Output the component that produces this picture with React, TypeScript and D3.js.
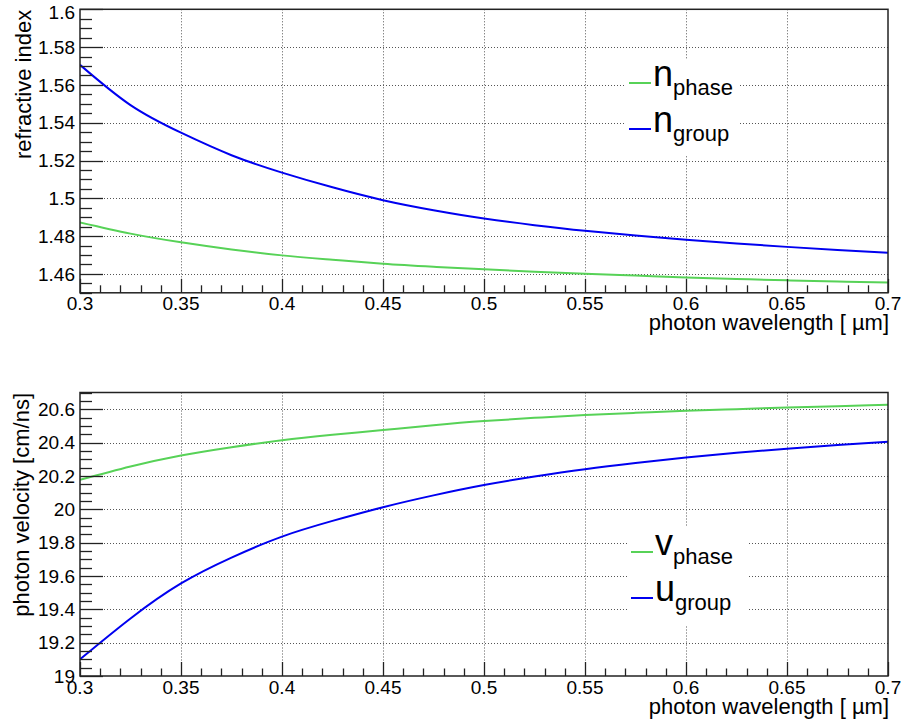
import React from "react";
import * as d3 from "d3";

// ---------- data ----------
const wavelength = [
  0.3, 0.325, 0.35, 0.375, 0.4, 0.425, 0.45, 0.475, 0.5, 0.525, 0.55, 0.575, 0.6, 0.625, 0.65, 0.675, 0.7,
];
const nPhase = [
  1.4872, 1.4813, 1.4767, 1.4729, 1.4698, 1.4675, 1.4654, 1.4638, 1.4624, 1.4612, 1.4601, 1.4591, 1.4581,
  1.4573, 1.4566, 1.456, 1.4555,
];
const nGroup = [
  1.5706, 1.5493, 1.5347, 1.5228, 1.5136, 1.5058, 1.499, 1.4937, 1.4893, 1.4858, 1.4828, 1.4803, 1.4781,
  1.4761, 1.4743, 1.4727, 1.4712,
];
const vPhase = [
  20.176, 20.256, 20.322, 20.372, 20.414, 20.446, 20.475, 20.504, 20.529, 20.548, 20.565, 20.578, 20.59,
  20.6, 20.61, 20.618, 20.626,
];
const uGroup = [
  19.1, 19.345, 19.555, 19.71, 19.836, 19.93, 20.012, 20.083, 20.145, 20.196, 20.24, 20.277, 20.31, 20.338,
  20.363, 20.385, 20.404,
];

const xTickLabels = [0.3, 0.35, 0.4, 0.45, 0.5, 0.55, 0.6, 0.65, 0.7];
const yTickLabelsTop = [1.46, 1.48, 1.5, 1.52, 1.54, 1.56, 1.58, 1.6];
const yTickLabelsBottom = [19, 19.2, 19.4, 19.6, 19.8, 20, 20.2, 20.4, 20.6];

const GREEN = "#57d257";
const BLUE = "#0000f0";
const FONT = "'Liberation Sans', Arial, Helvetica, sans-serif";

type Series = { values: number[]; color: string; main: string; sub: string };

type PanelProps = {
  top: number;
  yDomain: [number, number];
  yTicks: number[];
  yMinorStep: number;
  yTitle: string;
  yTitleX: number;
  series: Series[];
  legend: { x: number; y: number; w: number; h: number; rows: number[] };
};

const LEFT = 80;
const RIGHT = 888;
const HEIGHT = 283.5;

function minorRange(lo: number, hi: number, step: number) {
  const n = Math.round((hi - lo) / step);
  return d3.range(n + 1).map((i) => lo + i * step);
}

function fmt(v: number) {
  return String(+v.toFixed(4));
}

function Panel({ top, yDomain, yTicks, yMinorStep, yTitle, yTitleX, series, legend }: PanelProps) {
  const bottom = top + HEIGHT;
  const x = d3.scaleLinear().domain([0.3, 0.7]).range([LEFT, RIGHT]);
  const y = d3.scaleLinear().domain(yDomain).range([bottom, top]);
  const xMinor = minorRange(0.3, 0.7, 0.01);
  const yMinor = minorRange(yDomain[0], yDomain[1], yMinorStep);
  const clipId = `clip-${Math.round(top)}`;
  const line = d3
    .line<number>()
    .x((_, i) => x(wavelength[i]))
    .y((d) => y(d))
    .curve(d3.curveNatural);

  const gridX = xTickLabels.filter((v) => v > 0.3001 && v < 0.6999);
  const gridY = yTicks.filter((v) => v > yDomain[0] + 1e-6 && v < yDomain[1] - 1e-6);

  return (
    <g>
      <defs>
        <clipPath id={clipId}>
          <rect x={LEFT} y={top} width={RIGHT - LEFT} height={HEIGHT} />
        </clipPath>
      </defs>
      {/* grid */}
      {gridX.map((v) => (
        <line key={"gx" + v} x1={Math.round(x(v)) + 0.5} x2={Math.round(x(v)) + 0.5} y1={top} y2={bottom}
          stroke="#555" strokeWidth={1} strokeDasharray="1 2" />
      ))}
      {gridY.map((v) => (
        <line key={"gy" + v} x1={LEFT} x2={RIGHT} y1={Math.round(y(v)) + 0.5} y2={Math.round(y(v)) + 0.5}
          stroke="#555" strokeWidth={1} strokeDasharray="1 2" />
      ))}
      {/* legend box (white, hides the grid) */}
      <rect x={legend.x} y={legend.y} width={legend.w} height={legend.h} fill="#fff" />
      {/* curves */}
      <g clipPath={`url(#${clipId})`}>
        {series.map((s) => (
          <path key={s.main + s.sub} d={line(s.values) || ""} fill="none" stroke={s.color} strokeWidth={2}
            strokeLinejoin="round" />
        ))}
      </g>
      {/* legend entries */}
      {series.map((s, i) => {
        const ry = legend.rows[i];
        return (
          <g key={"leg" + i}>
            <line x1={legend.x + 4} x2={legend.x + 26} y1={ry} y2={ry} stroke={s.color} strokeWidth={2} />
            <text x={legend.x + 28} y={ry + 2.5} fontSize={36} fontFamily={FONT} fill="#000">
              {s.main}
              <tspan dy={9} fontSize={22}>{s.sub}</tspan>
            </text>
          </g>
        );
      })}
      {/* frame */}
      <rect x={LEFT} y={top} width={RIGHT - LEFT} height={HEIGHT} fill="none" stroke="#222" strokeWidth={1.5} />
      {/* y ticks */}
      {yMinor.map((v) => {
        const major = yTicks.some((t) => Math.abs(t - v) < 1e-6);
        const yy = Math.round(y(v)) + 0.5;
        return <line key={"yt" + v} x1={LEFT} x2={LEFT + (major ? 23 : 12)} y1={yy} y2={yy} stroke="#222" strokeWidth={1.3} />;
      })}
      {/* x ticks */}
      {xMinor.map((v) => {
        const major = xTickLabels.some((t) => Math.abs(t - v) < 1e-6);
        const xx = Math.round(x(v)) + 0.5;
        return <line key={"xt" + v} x1={xx} x2={xx} y1={bottom} y2={bottom - (major ? 14 : 7.5)} stroke="#222" strokeWidth={1.3} />;
      })}
      {/* y tick labels */}
      {yTicks.map((v) => (
        <text key={"yl" + v} x={LEFT - 5} y={Math.max(y(v), top + 3)} dy="0.35em" textAnchor="end"
          fontSize={19} fontFamily={FONT} fill="#000">
          {fmt(v)}
        </text>
      ))}
      {/* x tick labels */}
      {xTickLabels.map((v) => (
        <text key={"xl" + v} x={x(v)} y={bottom + 17.5} textAnchor="middle" fontSize={19} fontFamily={FONT} fill="#000">
          {fmt(v)}
        </text>
      ))}
      {/* axis titles */}
      <text x={RIGHT + 1} y={bottom + 37.5} textAnchor="end" fontSize={22} fontFamily={FONT} fill="#000">
        photon wavelength [ µm]
      </text>
      <text transform={`translate(${yTitleX},${top + 0.5}) rotate(-90)`} textAnchor="end" fontSize={22}
        fontFamily={FONT} fill="#000">
        {yTitle}
      </text>
    </g>
  );
}

export default function App() {
  return (
    <svg width={905} height={722} style={{ position: "absolute", left: 0, top: 0, background: "#fff" }}>
      <rect width={905} height={722} fill="#fff" />
      <Panel
        top={9.3}
        yDomain={[1.45, 1.6]}
        yTicks={yTickLabelsTop}
        yMinorStep={0.005}
        yTitle="refractive index"
        yTitleX={31}
        series={[
          { values: nPhase, color: GREEN, main: "n", sub: "phase" },
          { values: nGroup, color: BLUE, main: "n", sub: "group" },
        ]}
        legend={{ x: 625, y: 60, w: 113, h: 95, rows: [83, 129] }}
      />
      <Panel
        top={392.5}
        yDomain={[19, 20.7]}
        yTicks={yTickLabelsBottom}
        yMinorStep={0.05}
        yTitle="photon velocity [cm/ns]"
        yTitleX={29}
        series={[
          { values: vPhase, color: GREEN, main: "v", sub: "phase" },
          { values: uGroup, color: BLUE, main: "u", sub: "group" },
        ]}
        legend={{ x: 627, y: 527, w: 120, h: 98, rows: [552, 598] }}
      />
    </svg>
  );
}
